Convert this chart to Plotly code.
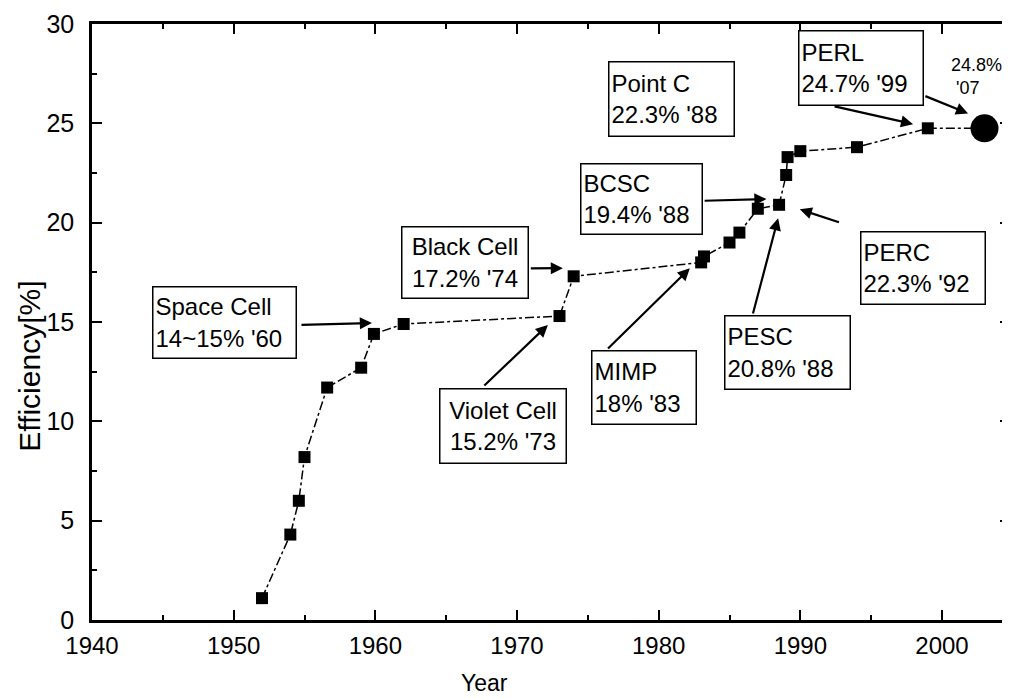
import plotly.graph_objects as go

# ---- data ----
years = [1952, 1954, 1954.6, 1955, 1956.6, 1959, 1959.9, 1962, 1973, 1974,
         1983, 1983.2, 1985, 1985.7, 1987, 1988.5, 1989, 1989.1, 1990, 1994, 1999]
efficiency = [1.1, 4.3, 6.0, 8.2, 11.7, 12.7, 14.4, 14.9, 15.3, 17.3,
              18.0, 18.3, 19.0, 19.5, 20.7, 20.9, 22.4, 23.3, 23.6, 23.8, 24.75]
record_year = [2003]
record_eff = [24.75]

x_ticks = [1940, 1950, 1960, 1970, 1980, 1990, 2000]
y_ticks = [0, 5, 10, 15, 20, 25, 30]

# labelled boxes: text, centre (year, eff), box width/height, alignment
box_texts = ["Space Cell<br>14~15% '60", "Black Cell<br>17.2% '74", "Violet Cell<br>15.2% '73",
             "MIMP<br>18% '83", "BCSC<br>19.4% '88", "Point C<br>22.3% '88",
             "PERL<br>24.7% '99", "PERC<br>22.3% '92", "PESC<br>20.8% '88"]
box_x = [1949.35, 1966.32, 1969.0, 1978.99, 1978.81, 1980.9, 1994.29, 1998.63, 1989.08]
box_y = [14.95, 18.02, 9.79, 11.68, 21.2, 26.25, 27.77, 17.70, 13.49]
box_w = [138, 121, 121, 99, 116, 120, 119, 119, 120]
box_h = [66, 66, 69, 68, 65, 69, 69, 67, 68]
box_align = ["left", "center", "center", "left", "left", "left", "left", "left", "left"]

# arrows: tail (year, eff) -> head (year, eff)
arrow_tail_x = [1954.68, 1970.87, 1967.59, 1976.32, 1983.14, 1992.31, 1998.72, 1992.83, 1986.63]
arrow_tail_y = [14.85, 17.70, 11.73, 13.59, 21.10, 25.87, 26.40, 20.00, 15.35]
arrow_head_x = [1959.76, 1973.24, 1972.18, 1982.20, 1987.61, 1997.96, 2001.84, 1989.96, 1988.43]
arrow_head_y = [14.95, 17.71, 14.85, 17.70, 21.19, 24.96, 25.50, 20.67, 20.22]

record_label = "24.8%<br> '07"
record_label_pos = (2000.5, 27.35)

SANS = "Liberation Sans, Arial, sans-serif"

fig = go.Figure()
fig.add_trace(go.Scatter(
    x=years, y=efficiency, mode="lines+markers",
    line=dict(color="black", width=1.5, dash="dashdot"),
    marker=dict(symbol="square", size=12, color="black"),
    showlegend=False, hoverinfo="skip"))
fig.add_trace(go.Scatter(
    x=[years[-1]] + record_year, y=[efficiency[-1]] + record_eff, mode="lines",
    line=dict(color="black", width=1.5, dash="dashdot"),
    showlegend=False, hoverinfo="skip"))
fig.add_trace(go.Scatter(
    x=record_year, y=record_eff, mode="markers",
    marker=dict(symbol="circle", size=28, color="black"),
    showlegend=False, hoverinfo="skip"))

annotations = []
for t, x, y, w, h, al in zip(box_texts, box_x, box_y, box_w, box_h, box_align):
    annotations.append(dict(
        x=x, y=y, xref="x", yref="y", text=t, showarrow=False,
        font=dict(family=SANS, size=24, color="black"),
        bordercolor="black", borderwidth=1.5, borderpad=2, bgcolor="white",
        width=w, height=h, align=al))
for tx, ty, hx, hy in zip(arrow_tail_x, arrow_tail_y, arrow_head_x, arrow_head_y):
    annotations.append(dict(
        x=hx, y=hy, xref="x", yref="y", ax=tx, ay=ty, axref="x", ayref="y",
        text="", showarrow=True, arrowhead=2, arrowsize=1.1, arrowwidth=2.2,
        arrowcolor="black", standoff=0, startstandoff=0))
annotations.append(dict(
    x=record_label_pos[0], y=record_label_pos[1], xref="x", yref="y",
    xanchor="left", yanchor="middle",
    text=record_label, showarrow=False, align="left",
    font=dict(family=SANS, size=18, color="black")))
annotations.append(dict(
    x=-0.068, y=0.426, xref="paper", yref="paper", text="Efficiency[%]",
    xanchor="center", yanchor="middle",
    textangle=-90, showarrow=False, font=dict(family=SANS, size=30, color="black")))
annotations.append(dict(
    x=0.428, y=-0.106, xref="paper", yref="paper", text="Year",
    xanchor="center", yanchor="middle",
    showarrow=False, font=dict(family=SANS, size=23, color="black")))

# the page body adds an 8px offset, so the figure is sized/margined to compensate
fig.update_layout(
    width=1002, height=691,
    margin=dict(l=84, r=0, t=16, b=79, autoexpand=False),
    paper_bgcolor="white", plot_bgcolor="white",
    annotations=annotations,
)
fig.update_xaxes(
    range=[1940, 2004.8], tickvals=x_ticks, ticktext=[str(v) for v in x_ticks],
    showline=True, linecolor="black", linewidth=2.5, mirror="allticks",
    ticks="inside", ticklen=10, tickwidth=2, tickcolor="black",
    minor=dict(dtick=5, tick0=1940, ticks="inside", ticklen=5, tickwidth=1.5, tickcolor="black"),
    showgrid=False, zeroline=False, ticklabelstandoff=2,
    tickfont=dict(family=SANS, size=24, color="black"))
fig.update_yaxes(
    range=[0, 30], tickvals=y_ticks, ticktext=[str(v) for v in y_ticks],
    showline=True, linecolor="black", linewidth=2.5, mirror="allticks",
    ticks="inside", ticklen=10, tickwidth=2, tickcolor="black",
    minor=dict(dtick=2.5, tick0=0, ticks="inside", ticklen=5, tickwidth=1.5, tickcolor="black"),
    showgrid=False, zeroline=False, ticklabelstandoff=10,
    tickfont=dict(family=SANS, size=25, color="black"))

fig.write_html("out.html")
